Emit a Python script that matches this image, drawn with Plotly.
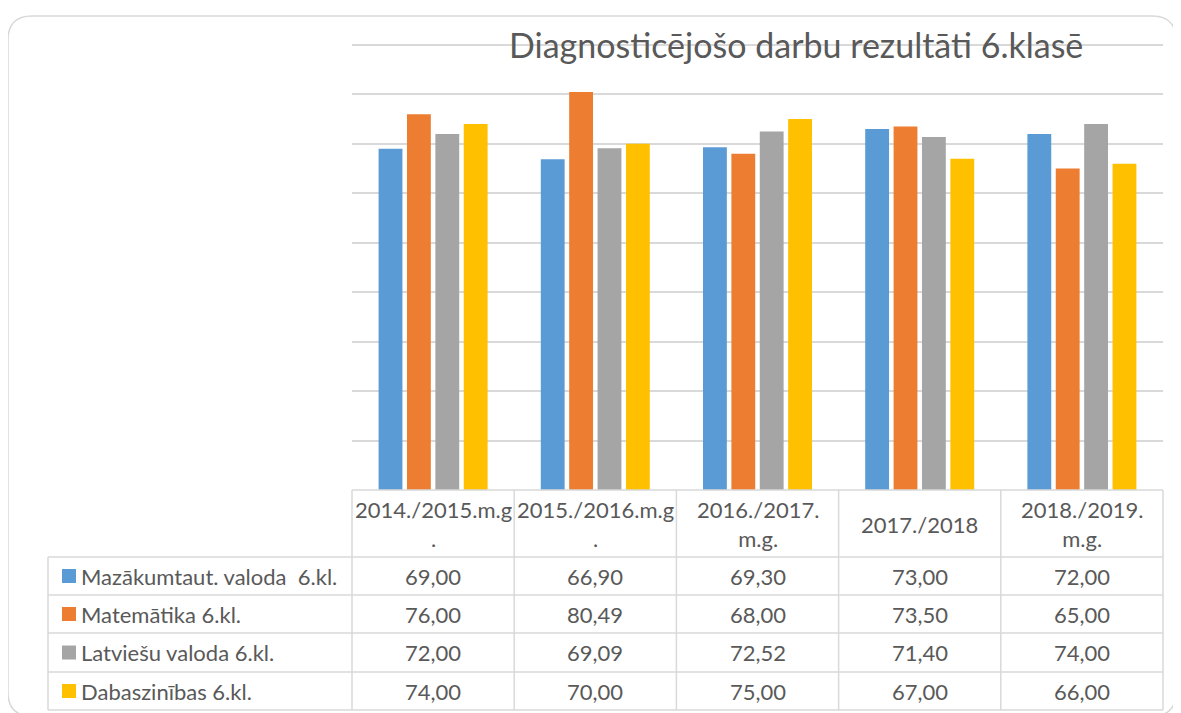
import plotly.graph_objects as go

# data
years = ["2014./2015.m.g .", "2015./2016.m.g .", "2016./2017. m.g.", "2017./2018", "2018./2019. m.g."]
year_labels = ["2014./2015.m.g<br>.", "2015./2016.m.g<br>.", "2016./2017.<br>m.g.", "2017./2018", "2018./2019.<br>m.g."]
series_names = ["Mazākumtaut. valoda  6.kl.", "Matemātika 6.kl.", "Latviešu valoda 6.kl.", "Dabaszinības 6.kl."]
mazakumtaut = [69.00, 66.90, 69.30, 73.00, 72.00]
matematika = [76.00, 80.49, 68.00, 73.50, 65.00]
latviesu = [72.00, 69.09, 72.52, 71.40, 74.00]
dabaszinibas = [74.00, 70.00, 75.00, 67.00, 66.00]
series_values = [mazakumtaut, matematika, latviesu, dabaszinibas]
colors = ["#5B9BD5", "#ED7D31", "#A5A5A5", "#FFC000"]

# the page body has an 8px margin, so the figure is shifted by OFF
OFF = 8
W, H = 1181 - OFF, 713 - OFF
Y_MAX = 91  # a little headroom so plotly keeps the gridline at 90
PLOT_L, PLOT_R, PLOT_B = 352, 1163, 490   # reference pixel coords of the plot area
PLOT_T = 45 - (PLOT_B - 45) / 90 * (Y_MAX - 90)
L, R, T, B = PLOT_L - OFF, W - (PLOT_R - OFF), PLOT_T - OFF, H - (PLOT_B - OFF)
PW, PH = W - L - R, H - T - B
TEXT = "#595959"
GRID = "#D9D9D9"
FONT = "Lato"
FS = 22


def px(x):
    return (x - PLOT_L) / PW


def py(y):
    return (PLOT_B - y) / PH


fig = go.Figure()
for name, vals, col in zip(series_names, series_values, colors):
    fig.add_trace(go.Bar(x=years, y=vals, name=name, marker=dict(color=col, line=dict(width=0))))

shapes = []
annotations = []

# outer rounded border
x0, y0, x1, y1, r = 8, 16, 1176, 716, 24
path = (f"M {px(x0 + r)},{py(y0)} L {px(x1 - r)},{py(y0)} "
        f"Q {px(x1)},{py(y0)} {px(x1)},{py(y0 + r)} L {px(x1)},{py(y1 - r)} "
        f"Q {px(x1)},{py(y1)} {px(x1 - r)},{py(y1)} L {px(x0 + r)},{py(y1)} "
        f"Q {px(x0)},{py(y1)} {px(x0)},{py(y1 - r)} L {px(x0)},{py(y0 + r)} "
        f"Q {px(x0)},{py(y0)} {px(x0 + r)},{py(y0)} Z")
shapes.append(dict(type="path", xref="paper", yref="paper", path=path,
                   line=dict(color=GRID, width=1.5), layer="below"))

# data table grid
col_edges = [PLOT_L + i * (PLOT_R - PLOT_L) / 5 for i in range(6)]
row_edges = [557, 595, 633, 672, 710]
line = dict(color=GRID, width=1.5)
shapes.append(dict(type="line", xref="paper", yref="paper", x0=px(PLOT_L), x1=px(PLOT_R), y0=py(490), y1=py(490), line=line))
for ry in row_edges:
    shapes.append(dict(type="line", xref="paper", yref="paper", x0=px(48), x1=px(PLOT_R), y0=py(ry), y1=py(ry), line=line))
for cx in col_edges:
    shapes.append(dict(type="line", xref="paper", yref="paper", x0=px(cx), x1=px(cx), y0=py(490), y1=py(710), line=line))
shapes.append(dict(type="line", xref="paper", yref="paper", x0=px(48), x1=px(48), y0=py(557), y1=py(710), line=line))

# header cells
for yr, lab in zip(years, year_labels):
    annotations.append(dict(x=yr, xref="x", y=py(524), yref="paper", text=lab, showarrow=False,
                            font=dict(family=FONT, size=FS, color=TEXT), align="center",
                            xanchor="center", yanchor="middle"))

# data rows
for i, (name, vals, col) in enumerate(zip(series_names, series_values, colors)):
    yc = (row_edges[i] + row_edges[i + 1]) / 2
    shapes.append(dict(type="rect", xref="paper", yref="paper", x0=px(62), x1=px(76),
                       y0=py(yc + 7), y1=py(yc - 7), fillcolor=col, line=dict(width=0)))
    annotations.append(dict(x=px(79), xref="paper", y=py(yc), yref="paper",
                            text=name.replace("  ", " \u00a0"), showarrow=False,
                            xanchor="left", yanchor="middle", font=dict(family=FONT, size=FS, color=TEXT)))
    for yr, v in zip(years, vals):
        annotations.append(dict(x=yr, xref="x", y=py(yc), yref="paper", text=f"{v:.2f}".replace(".", ","),
                                showarrow=False, xanchor="center", yanchor="middle",
                                font=dict(family=FONT, size=FS, color=TEXT)))

# title
annotations.append(dict(x=px(796), xref="paper", y=py(45), yref="paper", text="Diagnosticējošo darbu rezultāti 6.klasē",
                        showarrow=False, xanchor="center", yanchor="middle",
                        font=dict(family=FONT, size=34, color=TEXT)))

fig.update_layout(
    width=W, height=H,
    margin=dict(l=L, r=R, t=T, b=B),
    paper_bgcolor="white", plot_bgcolor="white",
    showlegend=False,
    barmode="group", bargap=0.3, bargroupgap=0.16,
    xaxis=dict(showticklabels=False, showgrid=False, zeroline=False, ticks=""),
    yaxis=dict(range=[0, Y_MAX], dtick=10, showticklabels=False, showgrid=True, gridcolor=GRID,
               gridwidth=1.5, zeroline=False, ticks=""),
    shapes=shapes,
    annotations=annotations,
)

fig.write_html("out.html")
